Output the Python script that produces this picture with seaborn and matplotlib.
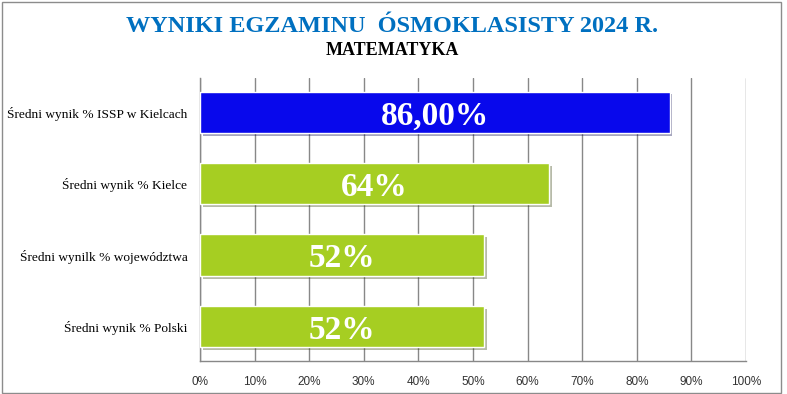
import pandas as pd
import matplotlib.pyplot as plt
import matplotlib.patheffects as pe
from matplotlib.patches import Rectangle
import seaborn as sns

# dane z wykresu
kategorie = ['Średni wynik % ISSP w Kielcach', 'Średni wynik % Kielce',
             'Średni wynilk % województwa', 'Średni wynik % Polski']
wyniki = [86, 64, 52, 52]
etykiety = ['86,00%', '64%', '52%', '52%']
kolory = ['#0808EC', '#A6CE22', '#A6CE22', '#A6CE22']
ticki = [0, 10, 20, 30, 40, 50, 60, 70, 80, 90, 100]

df = pd.DataFrame({'Kategoria': kategorie, 'Wynik': wyniki})

sns.set_style('white')
plt.rcParams['font.family'] = ['Liberation Serif', 'DejaVu Serif']

fig = plt.figure(figsize=(7.87, 3.94), dpi=100)
ax = fig.add_axes([0.254, 0.084, 0.694, 0.718])

sns.barplot(data=df, x='Wynik', y='Kategoria', hue='Kategoria', palette=kolory,
            orient='h', width=0.58, saturation=1, legend=False, ax=ax, zorder=3,
            edgecolor='white', linewidth=1)

for bar, txt in zip(ax.patches, etykiety):
    bar.set_path_effects([pe.SimplePatchShadow(offset=(2, -2), alpha=0.35),
                          pe.Normal()])
    ax.text(bar.get_x() + bar.get_width() / 2, bar.get_y() + bar.get_height() / 2,
            txt, ha='center', va='center_baseline', color='white', fontsize=24,
            fontweight='bold', zorder=5)

ax.set_xlim(0, 100)
ax.set_ylim(3.48, -0.48)
ax.set_xticks(ticki)
ax.set_xticklabels([f'{t}%' for t in ticki], family='Liberation Sans', fontsize=8.5,
                   color='#333333')
ax.tick_params(axis='x', length=0, pad=11)
ax.tick_params(axis='y', length=0, pad=9, labelsize=9.6, labelcolor='black')
ax.set_xlabel('')
ax.set_ylabel('')
ax.xaxis.grid(True, color='#888888', linewidth=1, zorder=0)
ax.set_axisbelow(True)
for s in ['top', 'right']:
    ax.spines[s].set_visible(False)
for s in ['left', 'bottom']:
    ax.spines[s].set_color('#888888')
    ax.spines[s].set_linewidth(1)

fig.text(0.498, 0.934, 'WYNIKI EGZAMINU  ÓSMOKLASISTY 2024 R.', ha='center',
         va='center', color='#0070C0', fontsize=17.5, fontweight='bold')
fig.text(0.498, 0.871, 'MATEMATYKA', ha='center', va='center', color='black',
         fontsize=13, fontweight='bold')

fig.patches.append(Rectangle((0.003, 0.003), 0.99, 0.992, transform=fig.transFigure,
                             fill=False, edgecolor='#8C8C8C', linewidth=1))

plt.savefig('out.png', dpi=100)
